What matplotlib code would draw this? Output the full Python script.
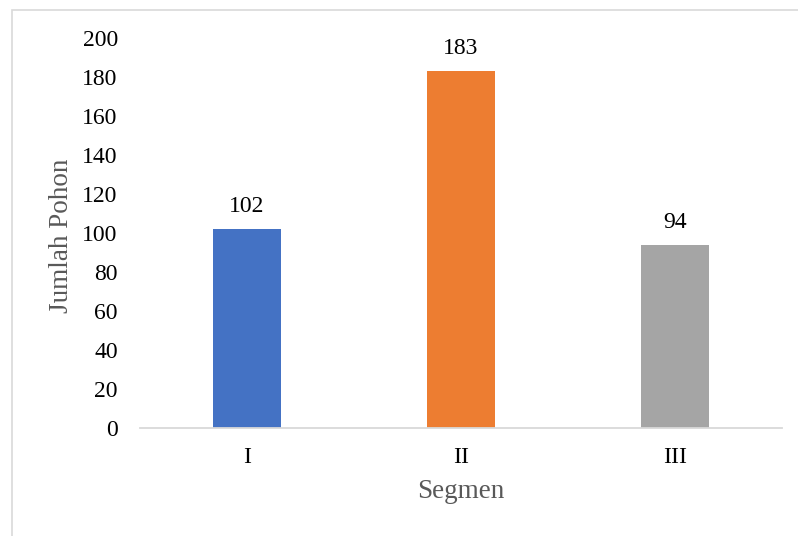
import matplotlib.pyplot as plt
from matplotlib.patches import Rectangle

plt.rcParams['font.family'] = ['Liberation Serif', 'DejaVu Serif']

segmen = ["I", "II", "III"]
jumlah = [102, 183, 94]
warna = ["#4472C4", "#ED7D31", "#A5A5A5"]
yticks = [0, 20, 40, 60, 80, 100, 120, 140, 160, 180, 200]

W, H = 798, 536
fig = plt.figure(figsize=(W / 100, H / 100), dpi=100)
ax = fig.add_axes([140 / W, 1 - 428 / H, 642 / W, 390 / H])

x = range(len(segmen))
ax.bar(x, jumlah, width=0.318, color=warna, zorder=2)

for xi, v in zip(x, jumlah):
    ax.text(xi, v + 6, str(v), ha="center", va="bottom", fontsize=17, color="black")

ax.set_xlim(-0.5, 2.5)
ax.set_ylim(0, 200)
ax.set_yticks(yticks)
ax.set_yticklabels([str(t) for t in yticks], fontsize=17)
ax.set_xticks(list(x))
ax.set_xticklabels(segmen, fontsize=17)
ax.tick_params(axis="both", length=0)
ax.tick_params(axis="y", pad=16)
ax.tick_params(axis="x", pad=14)

for s in ["top", "right", "left"]:
    ax.spines[s].set_visible(False)
ax.spines["bottom"].set_color("#D9D9D9")
ax.spines["bottom"].set_linewidth(1.3)

fig.text(62 / W, 1 - 235.5 / H, "Jumlah Pohon", rotation=90, ha="center", va="center",
         fontsize=19.5, color="#595959")
fig.text(461 / W, 1 - 492 / H, "Segmen", ha="center", va="center",
         fontsize=19.5, color="#595959")

# chart area border (only top and left fall inside the image)
fig.add_artist(Rectangle((11.5 / W, -0.1), 2, 1.1 - 9.5 / H, transform=fig.transFigure,
                         fill=False, edgecolor="#D9D9D9", linewidth=1.2))

fig.savefig("out.png", dpi=100)
